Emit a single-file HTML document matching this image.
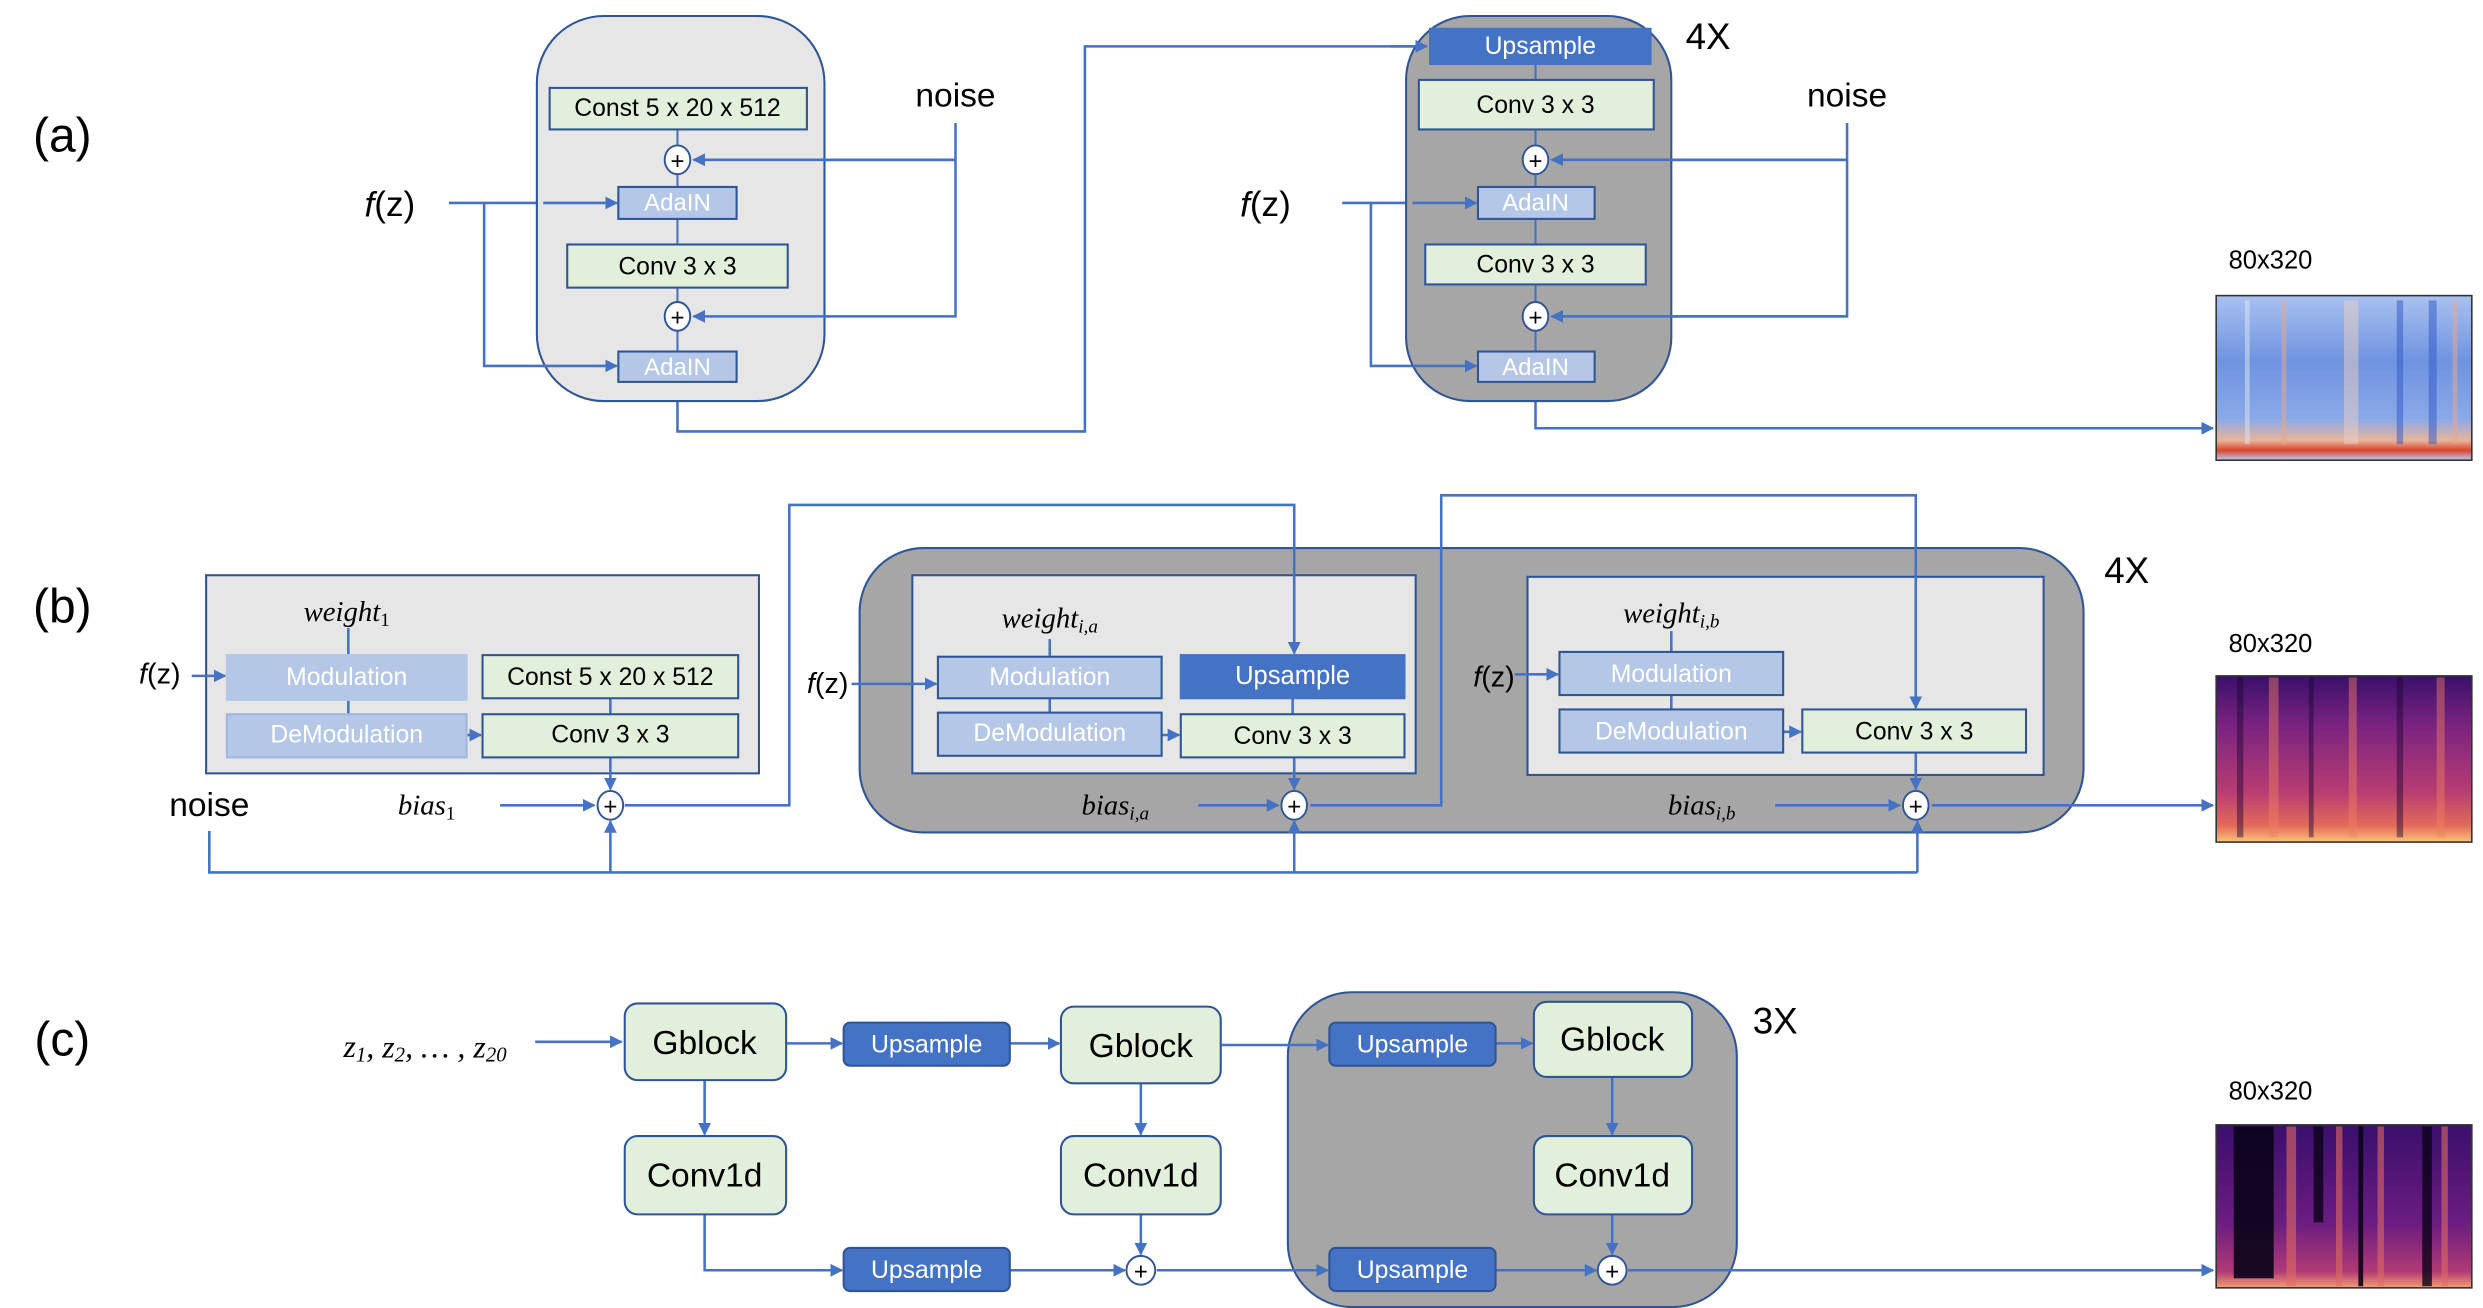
<!DOCTYPE html>
<html><head><meta charset="utf-8"><style>
html,body{margin:0;padding:0;background:#fff;}
svg{display:block;}
text{font-family:"Liberation Sans",sans-serif;}
.nb{font-family:"Liberation Sans Narrow","Liberation Sans",sans-serif;}
.ser{font-family:"Liberation Serif",serif;font-style:italic;}
</style></head><body>
<svg width="2483" height="1308" viewBox="0 0 1554 818.6" xmlns="http://www.w3.org/2000/svg">
<defs>
<marker id="a" viewBox="0 0 10 10" refX="9" refY="5" markerWidth="5" markerHeight="5" orient="auto"><path d="M0,0L10,5L0,10z" fill="#4472c4"/></marker>
<linearGradient id="blue" x1="0" y1="0" x2="0" y2="1">
<stop offset="0" stop-color="#a9c1f0"/><stop offset="0.4" stop-color="#6f93e0"/><stop offset="0.75" stop-color="#8aa9e8"/><stop offset="0.88" stop-color="#e8b49a"/><stop offset="0.94" stop-color="#d9442e"/><stop offset="1" stop-color="#b9cdf3"/></linearGradient>
<linearGradient id="mag" x1="0" y1="0" x2="0" y2="1">
<stop offset="0" stop-color="#3a0f6b"/><stop offset="0.3" stop-color="#7a2380"/><stop offset="0.7" stop-color="#b83d72"/><stop offset="0.9" stop-color="#e36a5a"/><stop offset="1" stop-color="#fbc27a"/></linearGradient>
<linearGradient id="mag2" x1="0" y1="0" x2="0" y2="1">
<stop offset="0" stop-color="#3a0f6b"/><stop offset="0.6" stop-color="#6a1d80"/><stop offset="0.9" stop-color="#b03a75"/><stop offset="1" stop-color="#f4a070"/></linearGradient>
</defs>
<g fill="none" stroke="#4472c4" stroke-width="1.6">
<!-- (a) -->
<path d="M598,77V198H434M598,100H434" marker-end="url(#a)"/>
<path d="M598,100H434" marker-end="url(#a)"/>
<path d="M281,127H386" marker-end="url(#a)"/>
<path d="M303,127V229H386" marker-end="url(#a)"/>
<path d="M424,239V270H679V29H893" marker-end="url(#a)"/>
<path d="M1156,77V198H971M1156,100H971" />
<path d="M1156,100H971" marker-end="url(#a)"/>
<path d="M1156,198H971" marker-end="url(#a)"/>
<path d="M840,127H924" marker-end="url(#a)"/>
<path d="M858,127V229H924" marker-end="url(#a)"/>
<path d="M961,239V268H1385" marker-end="url(#a)"/>
</g>
<rect x="336" y="10" width="180" height="241" rx="42" fill="#e6e6e6" stroke="#2f5597" stroke-width="1.3"/>
<rect x="880" y="10" width="166" height="241" rx="40" fill="#a6a6a6" stroke="#2f5597" stroke-width="1.3"/>
<g stroke="#4472c4" stroke-width="1.3">
<path d="M424,81V237M961,40V237"/>
</g>
<g fill="none" stroke="#4472c4" stroke-width="1.6">
<path d="M520,100H434" marker-end="url(#a)"/><path d="M520,198H434" marker-end="url(#a)"/>
<path d="M340,127H386" marker-end="url(#a)"/><path d="M340,229H386" marker-end="url(#a)"/>
<path d="M1050,100H971" marker-end="url(#a)"/><path d="M1050,198H971" marker-end="url(#a)"/>
<path d="M884,127H924" marker-end="url(#a)"/><path d="M884,229H924" marker-end="url(#a)"/>
<path d="M870,29H893" marker-end="url(#a)"/>
</g>
<g stroke="#2f5597" stroke-width="1.3">
<rect x="344" y="55" width="161" height="26" fill="#e2efda"/>
<rect x="387" y="117" width="74" height="20" fill="#b4c7e7"/>
<rect x="355" y="153" width="138" height="27" fill="#e2efda"/>
<rect x="387" y="220" width="74" height="19" fill="#b4c7e7"/>
<rect x="895" y="18" width="138" height="22" fill="#4472c4" stroke="#4472c4"/>
<rect x="888" y="50" width="147" height="31" fill="#e2efda"/>
<rect x="925" y="117" width="73" height="20" fill="#b4c7e7"/>
<rect x="892" y="153" width="138" height="25" fill="#e2efda"/>
<rect x="925" y="220" width="73" height="19" fill="#b4c7e7"/>
</g>
<g fill="#fff" stroke="#2f5597" stroke-width="1.2">
<ellipse cx="424" cy="100" rx="8" ry="9"/><ellipse cx="424" cy="198" rx="8" ry="9"/>
<ellipse cx="961" cy="100" rx="8" ry="9"/><ellipse cx="961" cy="198" rx="8" ry="9"/>
</g>
<g font-size="16" text-anchor="middle" dominant-baseline="central">
<text x="424" y="101" font-size="15">+</text><text x="424" y="199" font-size="15">+</text>
<text x="961" y="101" font-size="15">+</text><text x="961" y="199" font-size="15">+</text>
<text x="39" y="85" font-size="30">(a)</text>
<text x="424" y="68" font-size="15.5">Const  5 x 20 x 512</text>
<text x="424" y="127" fill="#fff" font-size="15">AdaIN</text>
<text x="424" y="167" font-size="15.5">Conv 3 x 3</text>
<text x="424" y="230" fill="#fff" font-size="15">AdaIN</text>
<text x="598" y="60" font-size="21">noise</text>
<text x="244" y="128" font-size="22"><tspan font-style="italic">f</tspan>(z)</text>
<text x="964" y="29" fill="#fff" font-size="15.5">Upsample</text>
<text x="961" y="66" font-size="15.5">Conv 3 x 3</text>
<text x="961" y="127" fill="#fff" font-size="15">AdaIN</text>
<text x="961" y="166" font-size="15.5">Conv 3 x 3</text>
<text x="961" y="230" fill="#fff" font-size="15">AdaIN</text>
<text x="1069" y="23" font-size="23">4X</text>
<text x="1156" y="60" font-size="21">noise</text>
<text x="792" y="128" font-size="22"><tspan font-style="italic">f</tspan>(z)</text>
<text x="1421" y="163" font-size="16">80x320</text>
</g>
<rect x="1387" y="185" width="160" height="103" fill="url(#blue)" stroke="#333" stroke-width="1"/>
<g opacity="0.5">
<rect x="1405" y="188" width="3" height="90" fill="#dfe6f3"/><rect x="1428" y="188" width="3" height="90" fill="#e9a88c"/>
<rect x="1467" y="188" width="9" height="90" fill="#ecd0c4"/><rect x="1500" y="188" width="4" height="90" fill="#3057c8"/>
<rect x="1520" y="188" width="5" height="90" fill="#3057c8"/><rect x="1535" y="188" width="3" height="90" fill="#e9a88c"/>
</g>
<!-- (b) -->
<rect x="538" y="343" width="766" height="178" rx="40" fill="#a6a6a6" stroke="#2f5597" stroke-width="1.3"/>
<g stroke="#2f5597" stroke-width="1.3">
<rect x="129" y="360" width="346" height="124" fill="#e6e6e6"/>
<rect x="571" y="360" width="315" height="124" fill="#e6e6e6"/>
<rect x="956" y="361" width="323" height="124" fill="#e6e6e6"/>
</g>
<g fill="none" stroke="#4472c4" stroke-width="1.6">
<path d="M218,393V447M382,437V447M657,400V446M1046,395V444"/>
<path d="M120,423H141" marker-end="url(#a)"/>
<path d="M292,460H301" marker-end="url(#a)"/>
<path d="M382,474V494" marker-end="url(#a)"/>
<path d="M313,504H372" marker-end="url(#a)"/>
<path d="M131,520V546H1200"/>
<path d="M382,546V514" marker-end="url(#a)"/>
<path d="M810,546V514" marker-end="url(#a)"/>
<path d="M1200,546V514" marker-end="url(#a)"/>
<path d="M391,504H494V316H810V409" marker-end="url(#a)"/>
<path d="M809,437V447M810,474V494" marker-end="url(#a)"/>
<path d="M533,428H586" marker-end="url(#a)"/>
<path d="M727,460H738" marker-end="url(#a)"/>
<path d="M750,504H800" marker-end="url(#a)"/>
<path d="M820,504H902V310H1199V443" marker-end="url(#a)"/>
<path d="M948,422H975" marker-end="url(#a)"/>
<path d="M1116,458H1127" marker-end="url(#a)"/>
<path d="M1199,471V494" marker-end="url(#a)"/>
<path d="M1111,504H1189" marker-end="url(#a)"/>
<path d="M1209,504H1385" marker-end="url(#a)"/>
</g>
<g stroke-width="1.3">
<rect x="142" y="410" width="150" height="28" fill="#b4c7e7" stroke="#b4c7e7"/>
<rect x="142" y="447" width="150" height="27" fill="#b4c7e7" stroke="#9fb6e0"/>
<rect x="302" y="410" width="160" height="27" fill="#e2efda" stroke="#2f5597"/>
<rect x="302" y="447" width="160" height="27" fill="#e2efda" stroke="#2f5597"/>
<rect x="587" y="411" width="140" height="26" fill="#b4c7e7" stroke="#2f5597"/>
<rect x="587" y="446" width="140" height="27" fill="#b4c7e7" stroke="#2f5597"/>
<rect x="739" y="410" width="140" height="27" fill="#4472c4" stroke="#4472c4"/>
<rect x="739" y="447" width="140" height="27" fill="#e2efda" stroke="#2f5597"/>
<rect x="976" y="408" width="140" height="27" fill="#b4c7e7" stroke="#2f5597"/>
<rect x="976" y="444" width="140" height="27" fill="#b4c7e7" stroke="#2f5597"/>
<rect x="1128" y="444" width="140" height="27" fill="#e2efda" stroke="#2f5597"/>
</g>
<g fill="#fff" stroke="#2f5597" stroke-width="1.2">
<ellipse cx="382" cy="504" rx="8" ry="9"/><ellipse cx="810" cy="504" rx="8" ry="9"/><ellipse cx="1199" cy="504" rx="8" ry="9"/>
</g>
<g font-size="16" text-anchor="middle" dominant-baseline="central">
<text x="382" y="505" font-size="15">+</text><text x="810" y="505" font-size="15">+</text><text x="1199" y="505" font-size="15">+</text>
<text x="39" y="380" font-size="30">(b)</text>
<text x="217" y="383" class="ser" font-size="18">weight<tspan font-size="12" dy="5" font-style="normal">1</tspan></text>
<text x="217" y="424" fill="#fff" font-size="15.5">Modulation</text>
<text x="217" y="460" fill="#fff" font-size="15.5">DeModulation</text>
<text x="382" y="424" font-size="15.5">Const  5 x 20 x 512</text>
<text x="382" y="460" font-size="15.5">Conv 3 x 3</text>
<text x="100" y="422" font-size="18"><tspan font-style="italic">f</tspan>(z)</text>
<text x="131" y="504" font-size="21">noise</text>
<text x="267" y="504" class="ser" font-size="18">bias<tspan font-size="12" dy="5" font-style="normal">1</tspan></text>
<text x="657" y="387" class="ser" font-size="18">weight<tspan font-size="12" dy="5">i,a</tspan></text>
<text x="657" y="424" fill="#fff" font-size="15.5">Modulation</text>
<text x="657" y="459" fill="#fff" font-size="15.5">DeModulation</text>
<text x="809" y="423" fill="#fff" font-size="16">Upsample</text>
<text x="809" y="461" font-size="15.5">Conv 3 x 3</text>
<text x="518" y="428" font-size="18"><tspan font-style="italic">f</tspan>(z)</text>
<text x="698" y="504" class="ser" font-size="18">bias<tspan font-size="12" dy="5">i,a</tspan></text>
<text x="1046" y="384" class="ser" font-size="18">weight<tspan font-size="12" dy="5">i,b</tspan></text>
<text x="1046" y="422" fill="#fff" font-size="15.5">Modulation</text>
<text x="1046" y="458" fill="#fff" font-size="15.5">DeModulation</text>
<text x="1198" y="458" font-size="15.5">Conv 3 x 3</text>
<text x="935" y="424" font-size="18"><tspan font-style="italic">f</tspan>(z)</text>
<text x="1065" y="504" class="ser" font-size="18">bias<tspan font-size="12" dy="5">i,b</tspan></text>
<text x="1331" y="357" font-size="23">4X</text>
<text x="1421" y="403" font-size="16">80x320</text>
</g>
<rect x="1387" y="423" width="160" height="104" fill="url(#mag)" stroke="#333" stroke-width="1"/>
<g opacity="0.45">
<rect x="1400" y="424" width="4" height="100" fill="#1a0530"/><rect x="1420" y="424" width="6" height="100" fill="#f08060"/>
<rect x="1445" y="424" width="3" height="100" fill="#1a0530"/><rect x="1470" y="424" width="5" height="100" fill="#f08060"/>
<rect x="1500" y="424" width="4" height="100" fill="#1a0530"/><rect x="1525" y="424" width="5" height="100" fill="#f08060"/>
</g>
<!-- (c) -->
<rect x="806" y="621" width="281" height="197" rx="40" fill="#a6a6a6" stroke="#2f5597" stroke-width="1.3"/>
<g fill="none" stroke="#4472c4" stroke-width="1.6">
<path d="M335,652H389" marker-end="url(#a)"/>
<path d="M492,653H527" marker-end="url(#a)"/>
<path d="M632,653H663" marker-end="url(#a)"/>
<path d="M764,654H831" marker-end="url(#a)"/>
<path d="M936,653H959" marker-end="url(#a)"/>
<path d="M441,676V710" marker-end="url(#a)"/>
<path d="M714,678V710" marker-end="url(#a)"/>
<path d="M1009,674V710" marker-end="url(#a)"/>
<path d="M441,760V795H527" marker-end="url(#a)"/>
<path d="M632,795H704" marker-end="url(#a)"/>
<path d="M714,760V785" marker-end="url(#a)"/>
<path d="M724,795H831" marker-end="url(#a)"/>
<path d="M936,795H999" marker-end="url(#a)"/>
<path d="M1009,760V785" marker-end="url(#a)"/>
<path d="M1019,795H1385" marker-end="url(#a)"/>
</g>
<g stroke="#2f5597" stroke-width="1.3">
<rect x="391" y="628" width="101" height="48" rx="8" fill="#e2efda"/>
<rect x="664" y="630" width="100" height="48" rx="8" fill="#e2efda"/>
<rect x="960" y="627" width="99" height="47" rx="8" fill="#e2efda"/>
<rect x="391" y="711" width="101" height="49" rx="8" fill="#e2efda"/>
<rect x="664" y="711" width="100" height="49" rx="8" fill="#e2efda"/>
<rect x="960" y="711" width="99" height="49" rx="8" fill="#e2efda"/>
<rect x="528" y="640" width="104" height="27" rx="4" fill="#4472c4"/>
<rect x="832" y="640" width="104" height="27" rx="4" fill="#4472c4"/>
<rect x="528" y="781" width="104" height="27" rx="4" fill="#4472c4"/>
<rect x="832" y="781" width="104" height="27" rx="4" fill="#4472c4"/>
</g>
<g fill="#fff" stroke="#2f5597" stroke-width="1.2">
<ellipse cx="714" cy="795" rx="9" ry="9"/><ellipse cx="1009" cy="795" rx="9" ry="9"/>
</g>
<g font-size="16" text-anchor="middle" dominant-baseline="central">
<text x="714" y="796" font-size="15">+</text><text x="1009" y="796" font-size="15">+</text>
<text x="39" y="651" font-size="30">(c)</text>
<text x="266" y="655" class="ser" font-size="20">z<tspan font-size="13" dy="5">1</tspan><tspan dy="-5">, z</tspan><tspan font-size="13" dy="5">2</tspan><tspan dy="-5">, … , z</tspan><tspan font-size="13" dy="5">20</tspan></text>
<text x="441" y="653" font-size="21">Gblock</text>
<text x="714" y="655" font-size="21">Gblock</text>
<text x="1009" y="651" font-size="21">Gblock</text>
<text x="441" y="736" font-size="21">Conv1d</text>
<text x="714" y="736" font-size="21">Conv1d</text>
<text x="1009" y="736" font-size="21">Conv1d</text>
<text x="580" y="654" fill="#fff" font-size="15.5">Upsample</text>
<text x="884" y="654" fill="#fff" font-size="15.5">Upsample</text>
<text x="580" y="795" fill="#fff" font-size="15.5">Upsample</text>
<text x="884" y="795" fill="#fff" font-size="15.5">Upsample</text>
<text x="1111" y="639" font-size="23">3X</text>
<text x="1421" y="683" font-size="16">80x320</text>
</g>
<rect x="1387" y="704" width="160" height="102" fill="url(#mag2)" stroke="#333" stroke-width="1"/>
<g>
<rect x="1398" y="705" width="25" height="95" fill="#0a0318" opacity="0.9"/>
<rect x="1431" y="705" width="6" height="100" fill="#e06a60" opacity="0.6"/>
<rect x="1448" y="705" width="6" height="60" fill="#0a0318" opacity="0.8"/>
<rect x="1462" y="705" width="4" height="100" fill="#e06a60" opacity="0.6"/>
<rect x="1476" y="705" width="3" height="100" fill="#0a0318" opacity="0.9"/>
<rect x="1488" y="705" width="4" height="100" fill="#e06a60" opacity="0.6"/>
<rect x="1516" y="705" width="6" height="100" fill="#0a0318" opacity="0.8"/>
<rect x="1528" y="705" width="4" height="100" fill="#e06a60" opacity="0.6"/>
</g>
</svg>
</body></html>
